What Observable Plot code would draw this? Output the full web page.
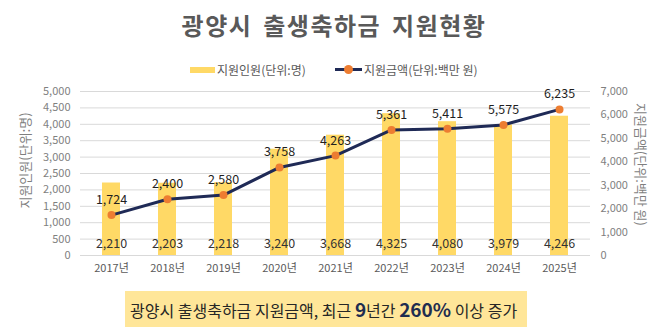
<!DOCTYPE html>
<html><head><meta charset="utf-8">
<script src="https://cdn.jsdelivr.net/npm/d3@7"></script>
<script src="https://cdn.jsdelivr.net/npm/@observablehq/plot@0.6"></script>
<style>
body{margin:0;background:#fff;font-family:"Noto Sans CJK KR","Noto Sans",sans-serif;}
#wrap{position:relative;width:668px;height:334px;overflow:hidden;}
#title{position:absolute;left:0;top:0;width:668px;height:50px;line-height:50px;text-align:center;font-size:24px;font-weight:bold;color:#595959;letter-spacing:1.5px;word-spacing:4px;}
#legend{position:absolute;left:0;top:59px;width:668px;height:22px;font-size:12px;color:#595959;}
.sw{position:absolute;}
#chart{position:absolute;left:0;top:80px;}
#cap{position:absolute;left:125px;top:291px;width:402px;height:36px;background:#FFE699;}
#cap span.t{position:absolute;left:5px;top:0;line-height:36px;font-size:16px;color:#262626;white-space:nowrap;}
#cap b{font-size:19px;color:#1F2D50;}
</style></head>
<body><div id="wrap">
<div id="title">광양시 출생축하금 지원현황</div>
<div id="legend">
  <div class="sw" style="left:190px;top:8px;width:25px;height:6px;background:#FFD966"></div>
  <div class="sw" style="left:217px;top:0;line-height:22px;">지원인원(단위:명)</div>
  <div class="sw" style="left:335px;top:9px;width:27px;height:3px;background:#1F2A56"></div>
  <div class="sw" style="left:344px;top:6px;width:9px;height:9px;border-radius:50%;background:#ED7D31"></div>
  <div class="sw" style="left:364px;top:0;line-height:22px;">지원금액(단위:백만 원)</div>
</div>
<div id="chart"></div>
<div id="cap"><span class="t">광양시 출생축하금 지원금액, 최근 <b>9</b>년간 <b>260%</b> 이상 증가</span></div>
</div>
<script>
const years = ["2017년","2018년","2019년","2020년","2021년","2022년","2023년","2024년","2025년"];
const people = [2210, 2203, 2218, 3240, 3668, 4325, 4080, 3979, 4246];
const amount = [1724, 2400, 2580, 3758, 4263, 5361, 5411, 5575, 6235];
const leftTicks = d3.range(0, 5001, 500);
const rightTicks = d3.range(0, 7001, 1000);
const k = 5000 / 7000;
const data = years.map((y, i) => ({year: y, people: people[i], amount: amount[i], amountY: amount[i] * k}));
const fmt = d3.format(",");
const chart = Plot.plot({
  width: 668, height: 205,
  marginTop: 11, marginBottom: 30, marginLeft: 80, marginRight: 78,
  style: {fontFamily: '"Noto Sans CJK KR","Noto Sans",sans-serif', fontSize: "11px", color: "#595959", background: "transparent", overflow: "visible"},
  x: {domain: years, paddingInner: 0.68, paddingOuter: 0.34},
  y: {domain: [0, 5000]},
  marks: [
    Plot.ruleY(leftTicks, {stroke: "#d9d9d9", strokeWidth: 1}),
    Plot.barY(data, {x: "year", y: "people", fill: "#FFD966"}),
    Plot.line(data, {x: "year", y: "amountY", stroke: "#1F2A56", strokeWidth: 3}),
    Plot.dot(data, {x: "year", y: "amountY", r: 4, fill: "#ED7D31", stroke: "none"}),
    Plot.text(data, {x: "year", y: "amountY", text: d => fmt(d.amount), dy: -15, fill: "#1f1f1f", fontSize: 12.5}),
    Plot.text(data, {x: "year", y: 0, text: d => fmt(d.people), dy: -12, fill: "#333", fontSize: 12.5}),
    Plot.axisY(leftTicks, {anchor: "left", tickSize: 0, tickPadding: 10, tickFormat: fmt, label: null, fill: "#7f7f7f", fontSize: 11}),
    Plot.axisY(rightTicks.map(v => v * k), {anchor: "right", tickSize: 0, tickPadding: 10, tickFormat: d => fmt(Math.round(d / k)), label: null, fill: "#7f7f7f", fontSize: 11}),
    Plot.axisX({tickSize: 0, tickPadding: 9, label: null, fill: "#595959", fontSize: 11}),
    Plot.text(["지원인원(단위:명)"], {frameAnchor: "left", textAnchor: "middle", rotate: -90, dx: -55, dy: -13, fill: "#7f7f7f", fontSize: 13}),
    Plot.text(["지원금액(단위:백만 원)"], {frameAnchor: "right", textAnchor: "middle", rotate: 90, dx: 50, dy: -9, fill: "#7f7f7f", fontSize: 13})
  ]
});
document.getElementById("chart").appendChild(chart);
</script>
</body></html>
